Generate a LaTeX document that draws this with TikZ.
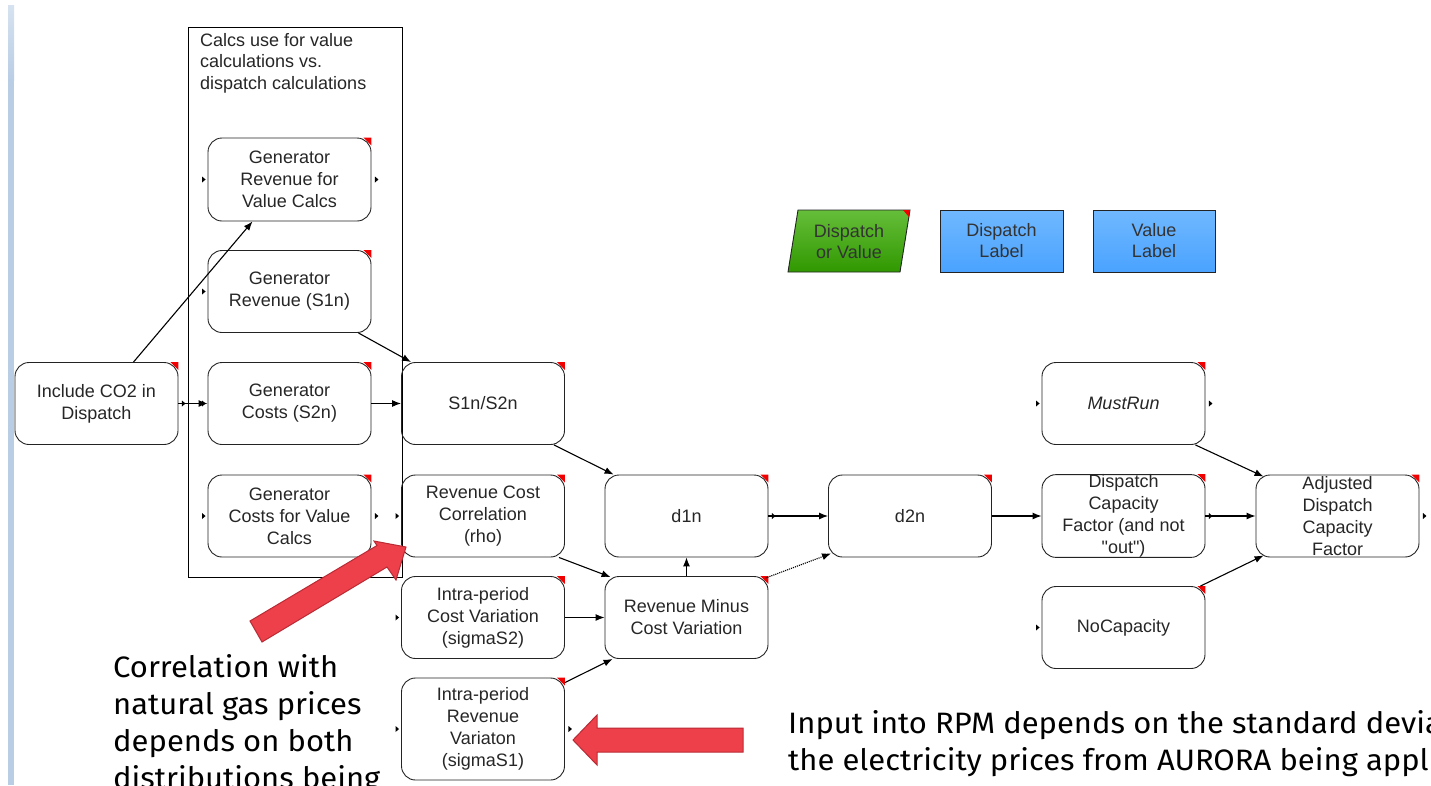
\documentclass[tikz,border=0pt]{standalone}
\usepackage{fontspec}
\setmainfont{Liberation Sans}[Ligatures=TeXOff]
\newfontfamily\notefont{Fira Sans}[FakeStretch=1.05]
\usetikzlibrary{arrows.meta,calc}

\definecolor{barblue}{RGB}{185,205,229}
\definecolor{barlight}{RGB}{214,226,240}
\definecolor{calloutred}{RGB}{238,64,75}
\definecolor{calloutedge}{RGB}{185,42,52}
\definecolor{nodeedge}{RGB}{35,35,35}
\definecolor{greentop}{RGB}{102,190,58}
\definecolor{greenbot}{RGB}{48,152,0}
\definecolor{bluetop}{RGB}{112,184,255}
\definecolor{bluebot}{RGB}{74,163,255}
\definecolor{flagred}{RGB}{240,0,0}

% input/output port markers and the red "has description" corner flag
\newcommand\instub[1]{\fill[black] ([xshift=-5.5pt,yshift=3pt]#1.west) -- ++(3.5,3) -- ([xshift=-5.5pt,yshift=-3pt]#1.west) -- cycle;}
\newcommand\outstub[1]{\fill[black] ([xshift=3.5pt,yshift=3pt]#1.east) -- ++(3.5,3) -- ([xshift=3.5pt,yshift=-3pt]#1.east) -- cycle;}
\newcommand\cornerflag[1]{\fill[flagred] ([xshift=-8pt]#1.north east) -- (#1.north east) -- ([yshift=-8pt]#1.north east) -- cycle;}

\begin{document}
\begin{tikzpicture}[x=1pt,y=-1pt,
  varbox/.style={draw=nodeedge, line width=0.9pt, rounded corners=14pt,
    minimum width=163pt, minimum height=82pt, inner sep=0pt, align=center,
    font=\fontsize{18}{22}\selectfont, text=black!85},
  tallbox/.style={varbox, minimum height=102pt},
  labelbox/.style={draw=nodeedge, line width=0.9pt, top color=bluetop, bottom color=bluebot,
    minimum height=62pt, inner sep=0pt, align=center,
    font=\fontsize{18}{21}\selectfont, text=black!80},
  plaintext/.style={inner sep=0pt, align=center, font=\fontsize{18}{21}\selectfont, text=black!80},
  conn/.style={line width=1.1pt, -{Latex[length=9pt,width=7pt]}},
  note/.style={inner sep=0pt, anchor=base west, font=\notefont\fontsize{29.5}{37}\selectfont, text=black},
  callout/.style={fill=calloutred, draw=calloutedge, line width=1pt, line join=miter}
]
\useasboundingbox (0,0) rectangle (1431,785);
\clip (0,0) rectangle (1431,785);

% slide margin bar
\fill[barblue] (8,5) rectangle (14,785);
\shade[top color=barlight, bottom color=barblue] (8,5) rectangle (14,80);

% group frame with its title
\draw[line width=0.9pt, black] (188,27) rectangle (402,577);
\node[inner sep=0pt, anchor=north west, align=left, font=\fontsize{18}{21.5}\selectfont, text=black!85]
  (grouptitle) at (200,33) {Calcs use for value\\calculations vs.\\dispatch calculations};

% variables
\node[varbox, minimum height=83pt] (grv) at (289.5,179.5) {Generator\\Revenue for\\Value Calcs};
\node[varbox] (gr)   at (289.5,291.5) {Generator\\Revenue (S1n)};
\node[varbox] (gc)   at (289.5,403.5) {Generator\\Costs (S2n)};
\node[varbox] (gcv)  at (289.5,516)   {Generator\\Costs for Value\\Calcs};
\node[varbox] (co2)  at (96.5,403.5)  {Include CO2 in\\Dispatch};
\node[varbox] (s12)  at (483,403.5)   {S1n/S2n};
\node[varbox] (rho)  at (483,516)     {Revenue Cost\\Correlation\\(rho)};
\node[varbox] (sig2) at (483,617.5)   {Intra-period\\Cost Variation\\(sigmaS2)};
\node[tallbox] (sig1) at (483,729)    {Intra-period\\Revenue\\Variaton\\(sigmaS1)};
\node[varbox] (d1n)  at (686.5,516)   {d1n};
\node[varbox] (rm)   at (686.5,617.5) {Revenue Minus\\Cost Variation};
\node[varbox] (d2n)  at (910,516)     {d2n};
\node[varbox] (mr)   at (1123.5,403.5) {\itshape MustRun};
\node[varbox] (dcf)  at (1123.5,516)  {Dispatch\\Capacity\\Factor (and not\\"out")};
\node[varbox] (nc)   at (1123.5,627.5) {NoCapacity};
\node[varbox] (adcf) at (1337.5,516)  {Adjusted\\Dispatch\\Capacity\\Factor};

% switch and labels
\shadedraw[top color=greentop, bottom color=greenbot, draw=nodeedge, line width=0.9pt]
  (788,272) -- (798,210) -- (910,210) -- (900,272) -- cycle;
\fill[flagred] (903,210) -- (910,210) -- (909,217) -- cycle;
\node[plaintext] (dov) at (849,241.5) {Dispatch\\or Value};
\node[labelbox, minimum width=123pt] (dlab) at (1001.5,241) {Dispatch\\Label};
\node[labelbox, minimum width=122pt] (vlab) at (1154,241) {Value\\Label};

% corner flags
\foreach \n in {grv,gr,gc,gcv,co2,s12,rho,sig2,sig1,d1n,rm,d2n,mr,dcf,nc,adcf}
  {\cornerflag{\n}}

% port markers
\instub{grv} \outstub{grv}
\instub{gr}
\outstub{co2} \instub{gc}
\instub{gcv} \outstub{gcv}
\instub{rho} \instub{sig2}
\instub{sig1} \outstub{sig1}
\outstub{d1n}
\instub{mr} \outstub{mr}
\outstub{dcf}
\instub{nc}
\outstub{adcf}

% influences
\draw[conn] ([xshift=37pt]co2.north) -- ([xshift=-37pt]grv.south);
\draw[conn] (co2.east) -- (gc.west);
\draw[conn] ([xshift=-13pt]gr.south east) -- ([xshift=10pt]s12.north west);
\draw[conn] (gc.east) -- (s12.west);
\draw[conn] ([xshift=-11pt]s12.south east) -- ([xshift=9pt]d1n.north west);
\draw[conn] ([xshift=-6pt]rho.south east) -- ([xshift=6pt,yshift=-1pt]rm.north west);
\draw[conn] (sig2.east) -- (rm.west);
\draw[conn] ([yshift=-5pt]sig1.north east) -- ([xshift=8pt]rm.south west);
\draw[conn] (rm.north) -- (d1n.south);
\draw[conn, densely dotted] ([xshift=-3pt,yshift=-2pt]rm.north east) -- ([xshift=3pt,yshift=4pt]d2n.south west);
\draw[conn] (d1n.east) -- (d2n.west);
\draw[conn] (d2n.east) -- (dcf.west);
\draw[conn] ([xshift=-10pt]mr.south east) -- ([xshift=8pt,yshift=-2pt]adcf.north west);
\draw[conn] (dcf.east) -- (adcf.west);
\draw[conn] ([xshift=-5pt]nc.north east) -- ([xshift=8pt,yshift=2pt]adcf.south west);

% call-out arrows
\draw[callout] (250,621) -- (377,545.5) -- (374,541) -- (406,547) -- (396,580) -- (387,567) -- (262,642) -- cycle;
\draw[callout] (573,740) -- (597,715) -- (597,728) -- (743,728) -- (743,752) -- (597,752) -- (597,765) -- cycle;

% call-out notes
\node[note] (corr1) at (113,677) {Correlation with};
\node[note] (corr2) at (113,714) {natural gas prices};
\node[note] (corr3) at (113,751) {depends on both};
\node[note] (corr4) at (113,788) {distributions being};
\node[note] (rpm1) at (788,733) {Input into RPM depends on the standard deviation of};
\node[note] (rpm2) at (788,770) {the electricity prices from AURORA being applied};
\end{tikzpicture}
\end{document}
